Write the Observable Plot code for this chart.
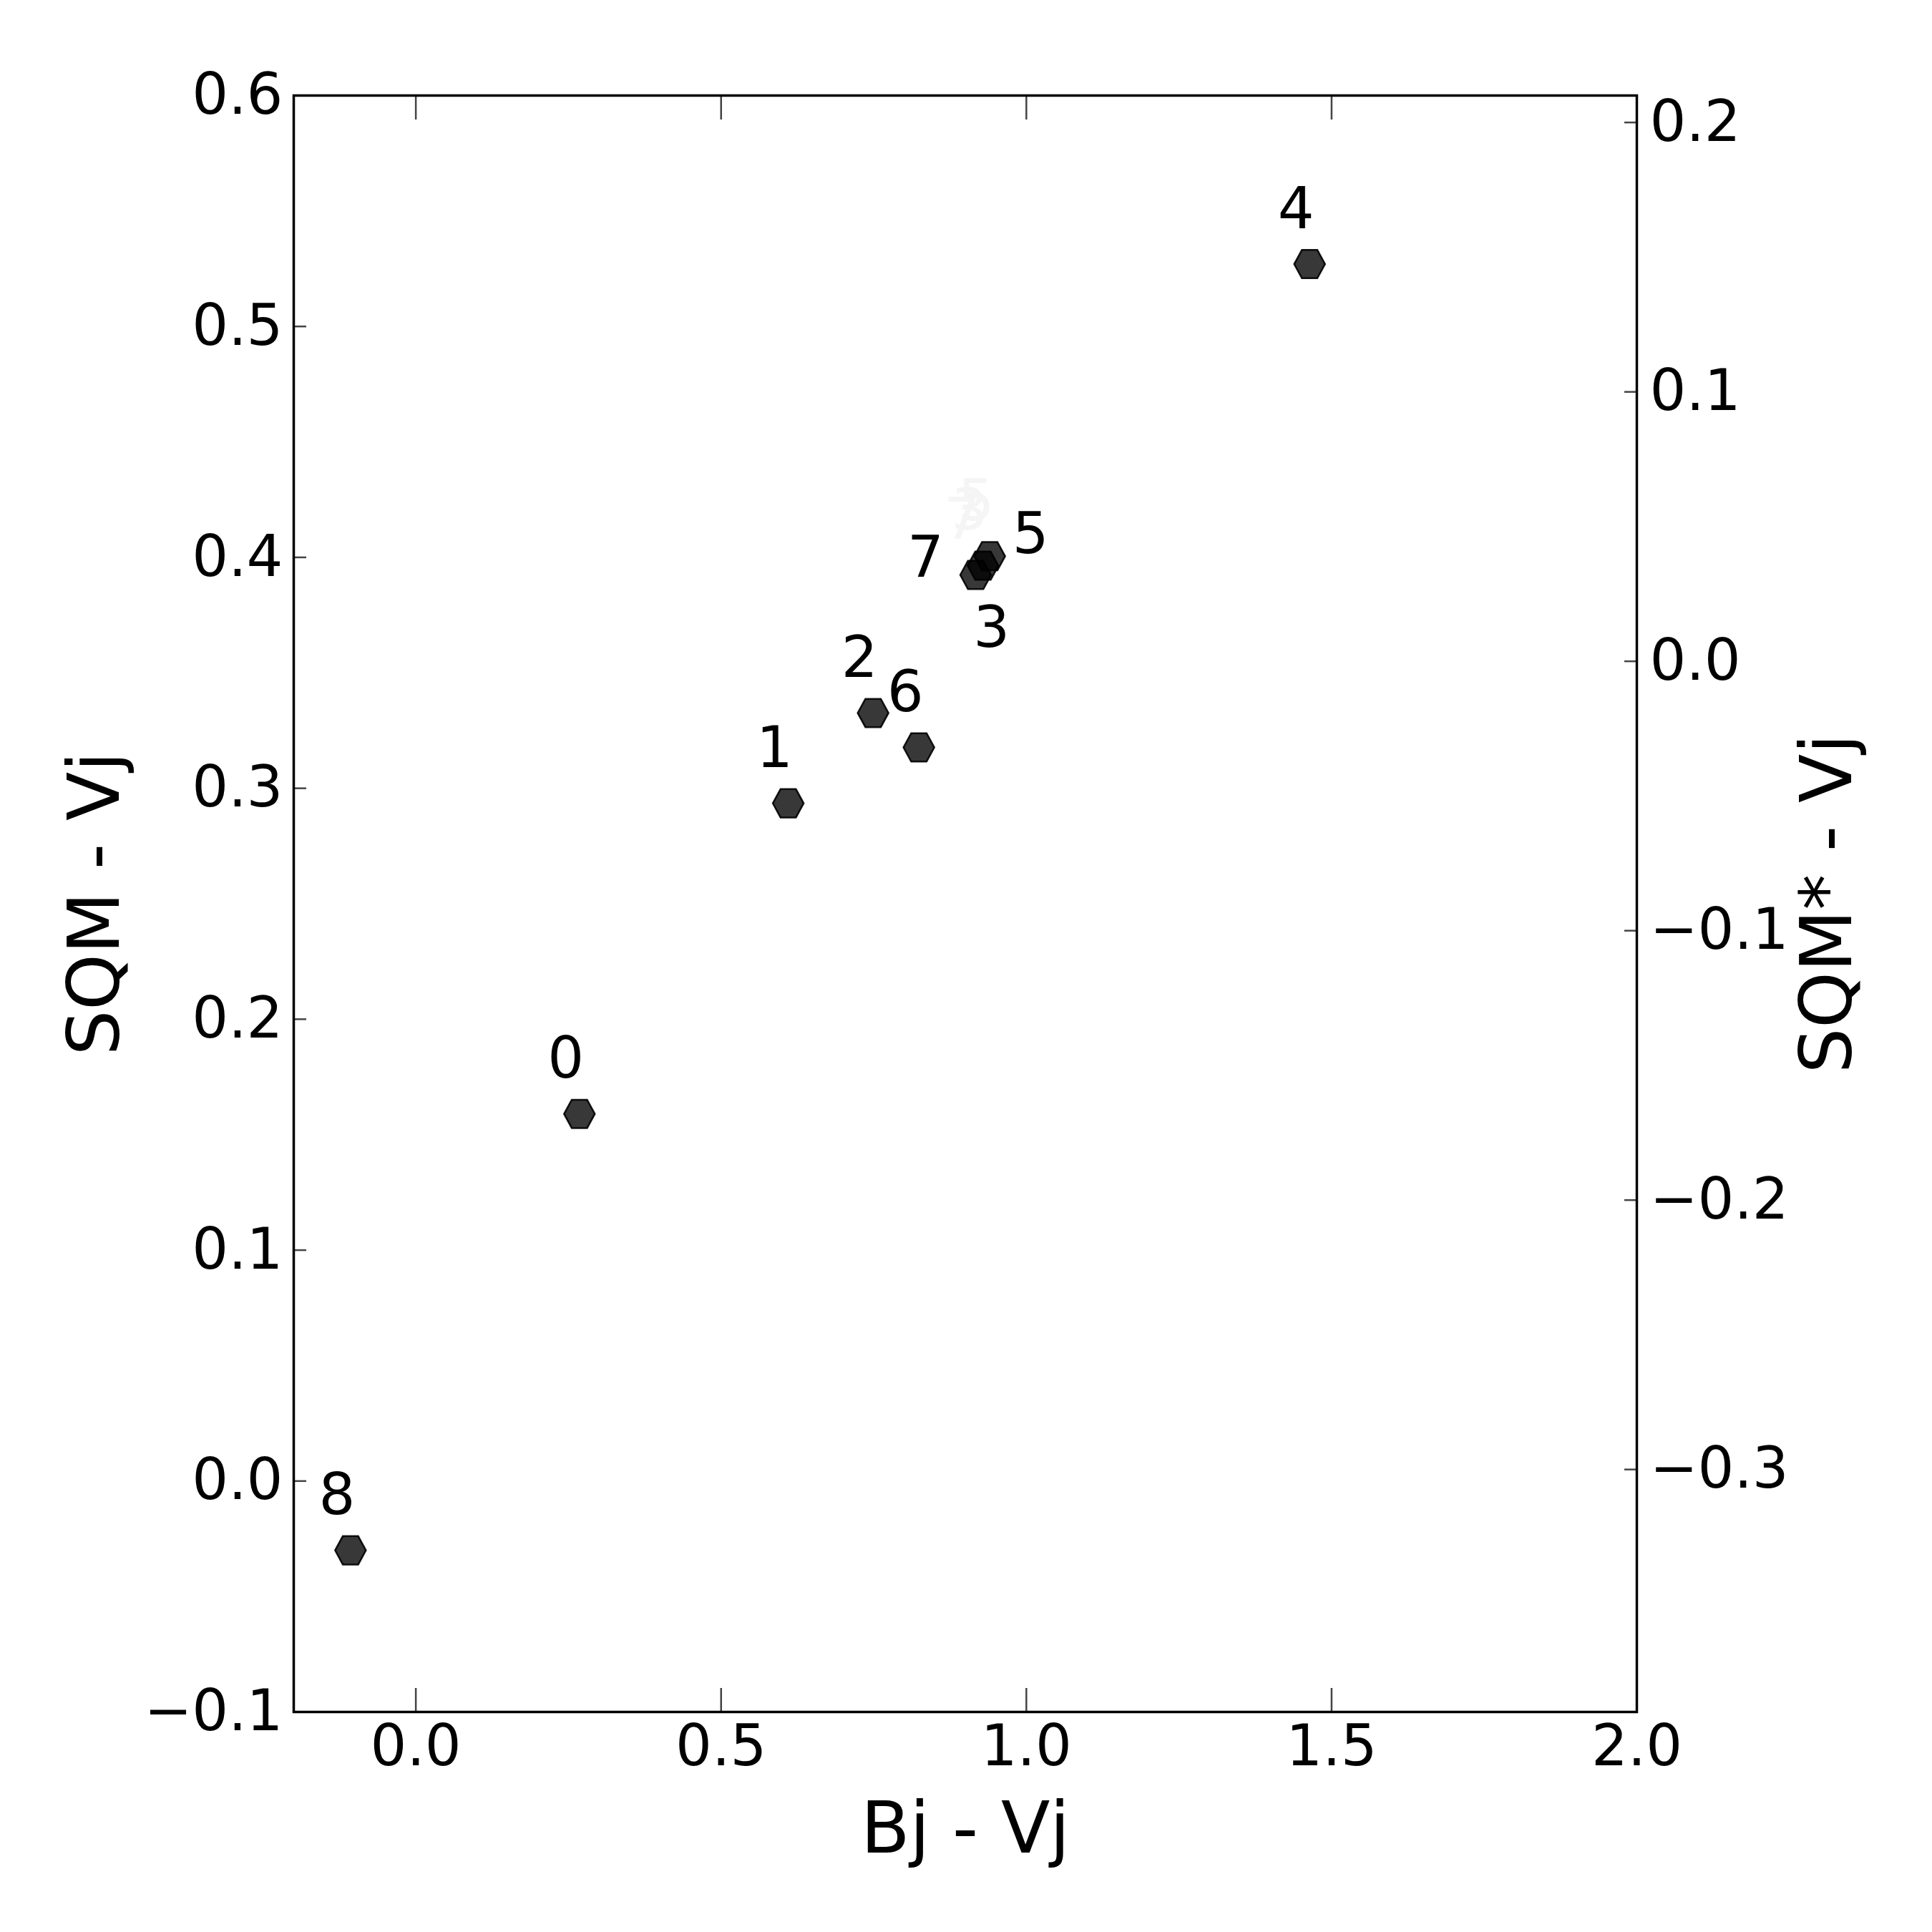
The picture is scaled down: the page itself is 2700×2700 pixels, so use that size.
<!DOCTYPE html>
<html>
<head>
<meta charset="utf-8">
<script src="https://cdn.jsdelivr.net/npm/d3@7"></script>
<script src="https://cdn.jsdelivr.net/npm/@observablehq/plot@0.6"></script>
<style>
  html, body { margin: 0; padding: 0; background: white; }
</style>
</head>
<body>
<div id="chart"></div>
<script>
// ---- data ----
const pointIds = ["8", "0", "1", "2", "6", "7", "3", "5", "4"];
const bjMinusVj = [-0.107, 0.268, 0.610, 0.749, 0.824, 0.917, 0.929, 0.940, 1.464];
const sqmMinusVj = [-0.030, 0.159, 0.2935, 0.3326, 0.3177, 0.3924, 0.3964, 0.4005, 0.527];

const xTicks = [0.0, 0.5, 1.0, 1.5, 2.0];
const yTicks = [-0.1, 0.0, 0.1, 0.2, 0.3, 0.4, 0.5, 0.6];
const yRightTicks = [-0.3, -0.2, -0.1, 0.0, 0.1, 0.2];

const xDomain = [-0.2, 2.0];
const yDomain = [-0.1, 0.6];
const yRightDomain = [-0.39, 0.21];

// label placement (pixel offsets from the point)
const labelOffset = {
  "8": [-19, -76], "0": [-19, -76], "1": [-19, -76], "2": [-19, -76],
  "6": [-19, -76], "4": [-19, -76],
  "7": [-70, -23], "5": [57, -30], "3": [12, 88]
};
const fadedLabels = ["7", "3", "5"];

// ---- helpers ----
const fmt = d3.format(".1f");
const rightToLeft = r => yDomain[0] + (r - yRightDomain[0]) * (yDomain[1] - yDomain[0]) / (yRightDomain[1] - yRightDomain[0]);
const leftToRight = v => yRightDomain[0] + (v - yDomain[0]) * (yRightDomain[1] - yRightDomain[0]) / (yDomain[1] - yDomain[0]);

const hexagonFlat = {
  draw(context, size) {
    const r = Math.sqrt(size / Math.PI);
    const ry = r * 0.92;
    context.moveTo(r, 0);
    context.lineTo(r / 2, ry);
    context.lineTo(-r / 2, ry);
    context.lineTo(-r, 0);
    context.lineTo(-r / 2, -ry);
    context.lineTo(r / 2, -ry);
    context.closePath();
  }
};

const idx = pointIds.map((_, i) => i);
const font = 80;
const titleFont = 100;

const labelMarks = idx.map(i => Plot.text([i], {
  x: j => bjMinusVj[j], y: j => sqmMinusVj[j], text: j => pointIds[j],
  dx: labelOffset[pointIds[i]][0], dy: labelOffset[pointIds[i]][1],
  fontSize: font, fill: "black"
}));
const fadedMarks = idx.filter(i => fadedLabels.includes(pointIds[i])).map(i => Plot.text([i], {
  x: j => bjMinusVj[j], y: j => sqmMinusVj[j], text: j => pointIds[j],
  dx: -19, dy: -76, fontSize: font, fill: "#f5f5f5"
}));

const chart = Plot.plot({
  width: 2700,
  height: 2700,
  marginLeft: 410,
  marginRight: 413,
  marginTop: 133,
  marginBottom: 308,
  style: { fontFamily: "DejaVu Sans", background: "white", color: "black" },
  x: { domain: xDomain },
  y: { domain: yDomain },
  marks: [
    ...fadedMarks,
    // tick marks (inward)
    Plot.axisX({ anchor: "bottom", ticks: xTicks, tickSize: -33, tickFormat: () => "", stroke: "#444", strokeWidth: 2.5, label: null }),
    Plot.axisX({ anchor: "top", ticks: xTicks, tickSize: -33, tickFormat: () => "", stroke: "#444", strokeWidth: 2.5, label: null }),
    Plot.axisY({ anchor: "left", ticks: yTicks, tickSize: -18, tickFormat: () => "", stroke: "#444", strokeWidth: 2.5, label: null }),
    Plot.axisY({ anchor: "right", ticks: yRightTicks.map(rightToLeft), tickSize: -18, tickFormat: () => "", stroke: "#444", strokeWidth: 2.5, label: null }),
    // tick labels
    Plot.axisX({ anchor: "bottom", ticks: xTicks, tickSize: 0, tickPadding: 18, tickFormat: fmt, fontSize: font, fill: "black", label: null }),
    Plot.axisY({ anchor: "left", ticks: yTicks, tickSize: 0, tickPadding: 15, tickFormat: fmt, fontSize: font, fill: "black", label: null }),
    Plot.axisY({ anchor: "right", ticks: yRightTicks.map(rightToLeft), tickSize: 0, tickPadding: 18,
      tickFormat: v => fmt(Math.round(leftToRight(v) * 10) / 10), fontSize: font, fill: "black", label: null }),
    // axis titles
    Plot.text(["Bj - Vj"], { frameAnchor: "bottom", dy: 196, lineAnchor: "bottom", textAnchor: "middle", fontSize: titleFont, fill: "black" }),
    Plot.text(["SQM - Vj"], { frameAnchor: "left", dx: -245, rotate: -90, lineAnchor: "bottom", textAnchor: "middle", fontSize: titleFont, fill: "black" }),
    Plot.text(["SQM* - Vj"], { frameAnchor: "right", dx: 299, rotate: -90, lineAnchor: "bottom", textAnchor: "middle", fontSize: titleFont, fill: "black" }),
    // points
    Plot.dot(idx, {
      x: i => bjMinusVj[i], y: i => sqmMinusVj[i],
      symbol: hexagonFlat, r: 21.5,
      fill: "black", fillOpacity: 0.78, stroke: "black", strokeOpacity: 0.9, strokeWidth: 2.5
    }),
    ...labelMarks,
    Plot.frame({ stroke: "black", strokeWidth: 3.5 })
  ]
});
document.getElementById("chart").appendChild(chart);
</script>
</body>
</html>
